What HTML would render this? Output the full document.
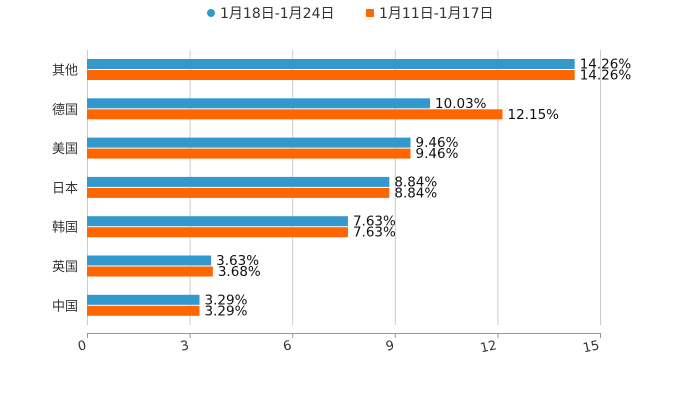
<!DOCTYPE html>
<html><head><meta charset="utf-8"><style>
body{margin:0;background:#fff;}
svg{display:block;font-family:"DejaVu Sans","Noto Sans CJK SC",sans-serif;}
</style></head><body>
<svg id="c" width="700" height="400">
<g>
<g><circle cx="211" cy="13" r="4" fill="#3399cc"/><text x="220" y="18" font-size="14" fill="#333">1月18日-1月24日</text></g>
<g><rect x="366" y="9" width="8" height="8" rx="1" fill="#ff6600"/><text x="379" y="18" font-size="14" fill="#333">1月11日-1月17日</text></g>
</g>
<g id="plot"></g>
</svg>
<script>
const categories=["其他","德国","美国","日本","韩国","英国","中国"];
const seriesA=[14.26,10.03,9.46,8.84,7.63,3.63,3.29];
const seriesB=[14.26,12.15,9.46,8.84,7.63,3.68,3.29];
const ticks=[0,3,6,9,12,15];
const ns="http://www.w3.org/2000/svg";
const g=document.getElementById('plot');
const x0=87,x1=600,yTop=50,yBot=325,axisY=333;
const xs=v=>x0+(v/15)*(x1-x0);
const rowY=i=>69.5+i*39.3;
function mk(t,a,p){const e=document.createElementNS(ns,t);for(const k in a)e.setAttribute(k,a[k]);(p||g).appendChild(e);return e;}
ticks.forEach(t=>{
 const l=mk('line',{x1:xs(t)+0.5,x2:xs(t)+0.5,y1:yTop,y2:yBot,stroke:'#ccc'});
 
 
 const k=mk('line',{x1:xs(t)+0.5,x2:xs(t)+0.5,y1:axisY,y2:axisY+5,stroke:'#999'});
 
 
 const tx=mk('text',{x:xs(t),y:axisY+16,'font-size':'13',fill:'#333','text-anchor':'end',transform:`rotate(-12 ${xs(t)} ${axisY+16})`});
 tx.textContent=t;
 
 
});
const ax=mk('line',{x1:x0,x2:x1+1,y1:axisY+0.5,y2:axisY+0.5,stroke:'#999'});


categories.forEach((c,i)=>{
 const y=rowY(i);
 const cl=mk('text',{x:78,y:y+5,'font-size':'13',fill:'#333','text-anchor':'end'});
 cl.textContent=c;
 
 
 const a=mk('rect',{x:x0,y:y-10.5,width:xs(seriesA[i])-x0,height:10,fill:'#3399cc'});
 
 
 const b=mk('rect',{x:x0,y:y+0.5,width:xs(seriesB[i])-x0,height:10,fill:'#ff6600'});
 
 
 const la=mk('text',{x:xs(seriesA[i])+5,y:y-1,'font-size':'13.5',fill:'#111'});
 la.textContent=seriesA[i].toFixed(2)+'%';
 
 
 const lb=mk('text',{x:xs(seriesB[i])+5,y:y+10,'font-size':'13.5',fill:'#111'});
 lb.textContent=seriesB[i].toFixed(2)+'%';
 
 
});
</script>
</body></html>
